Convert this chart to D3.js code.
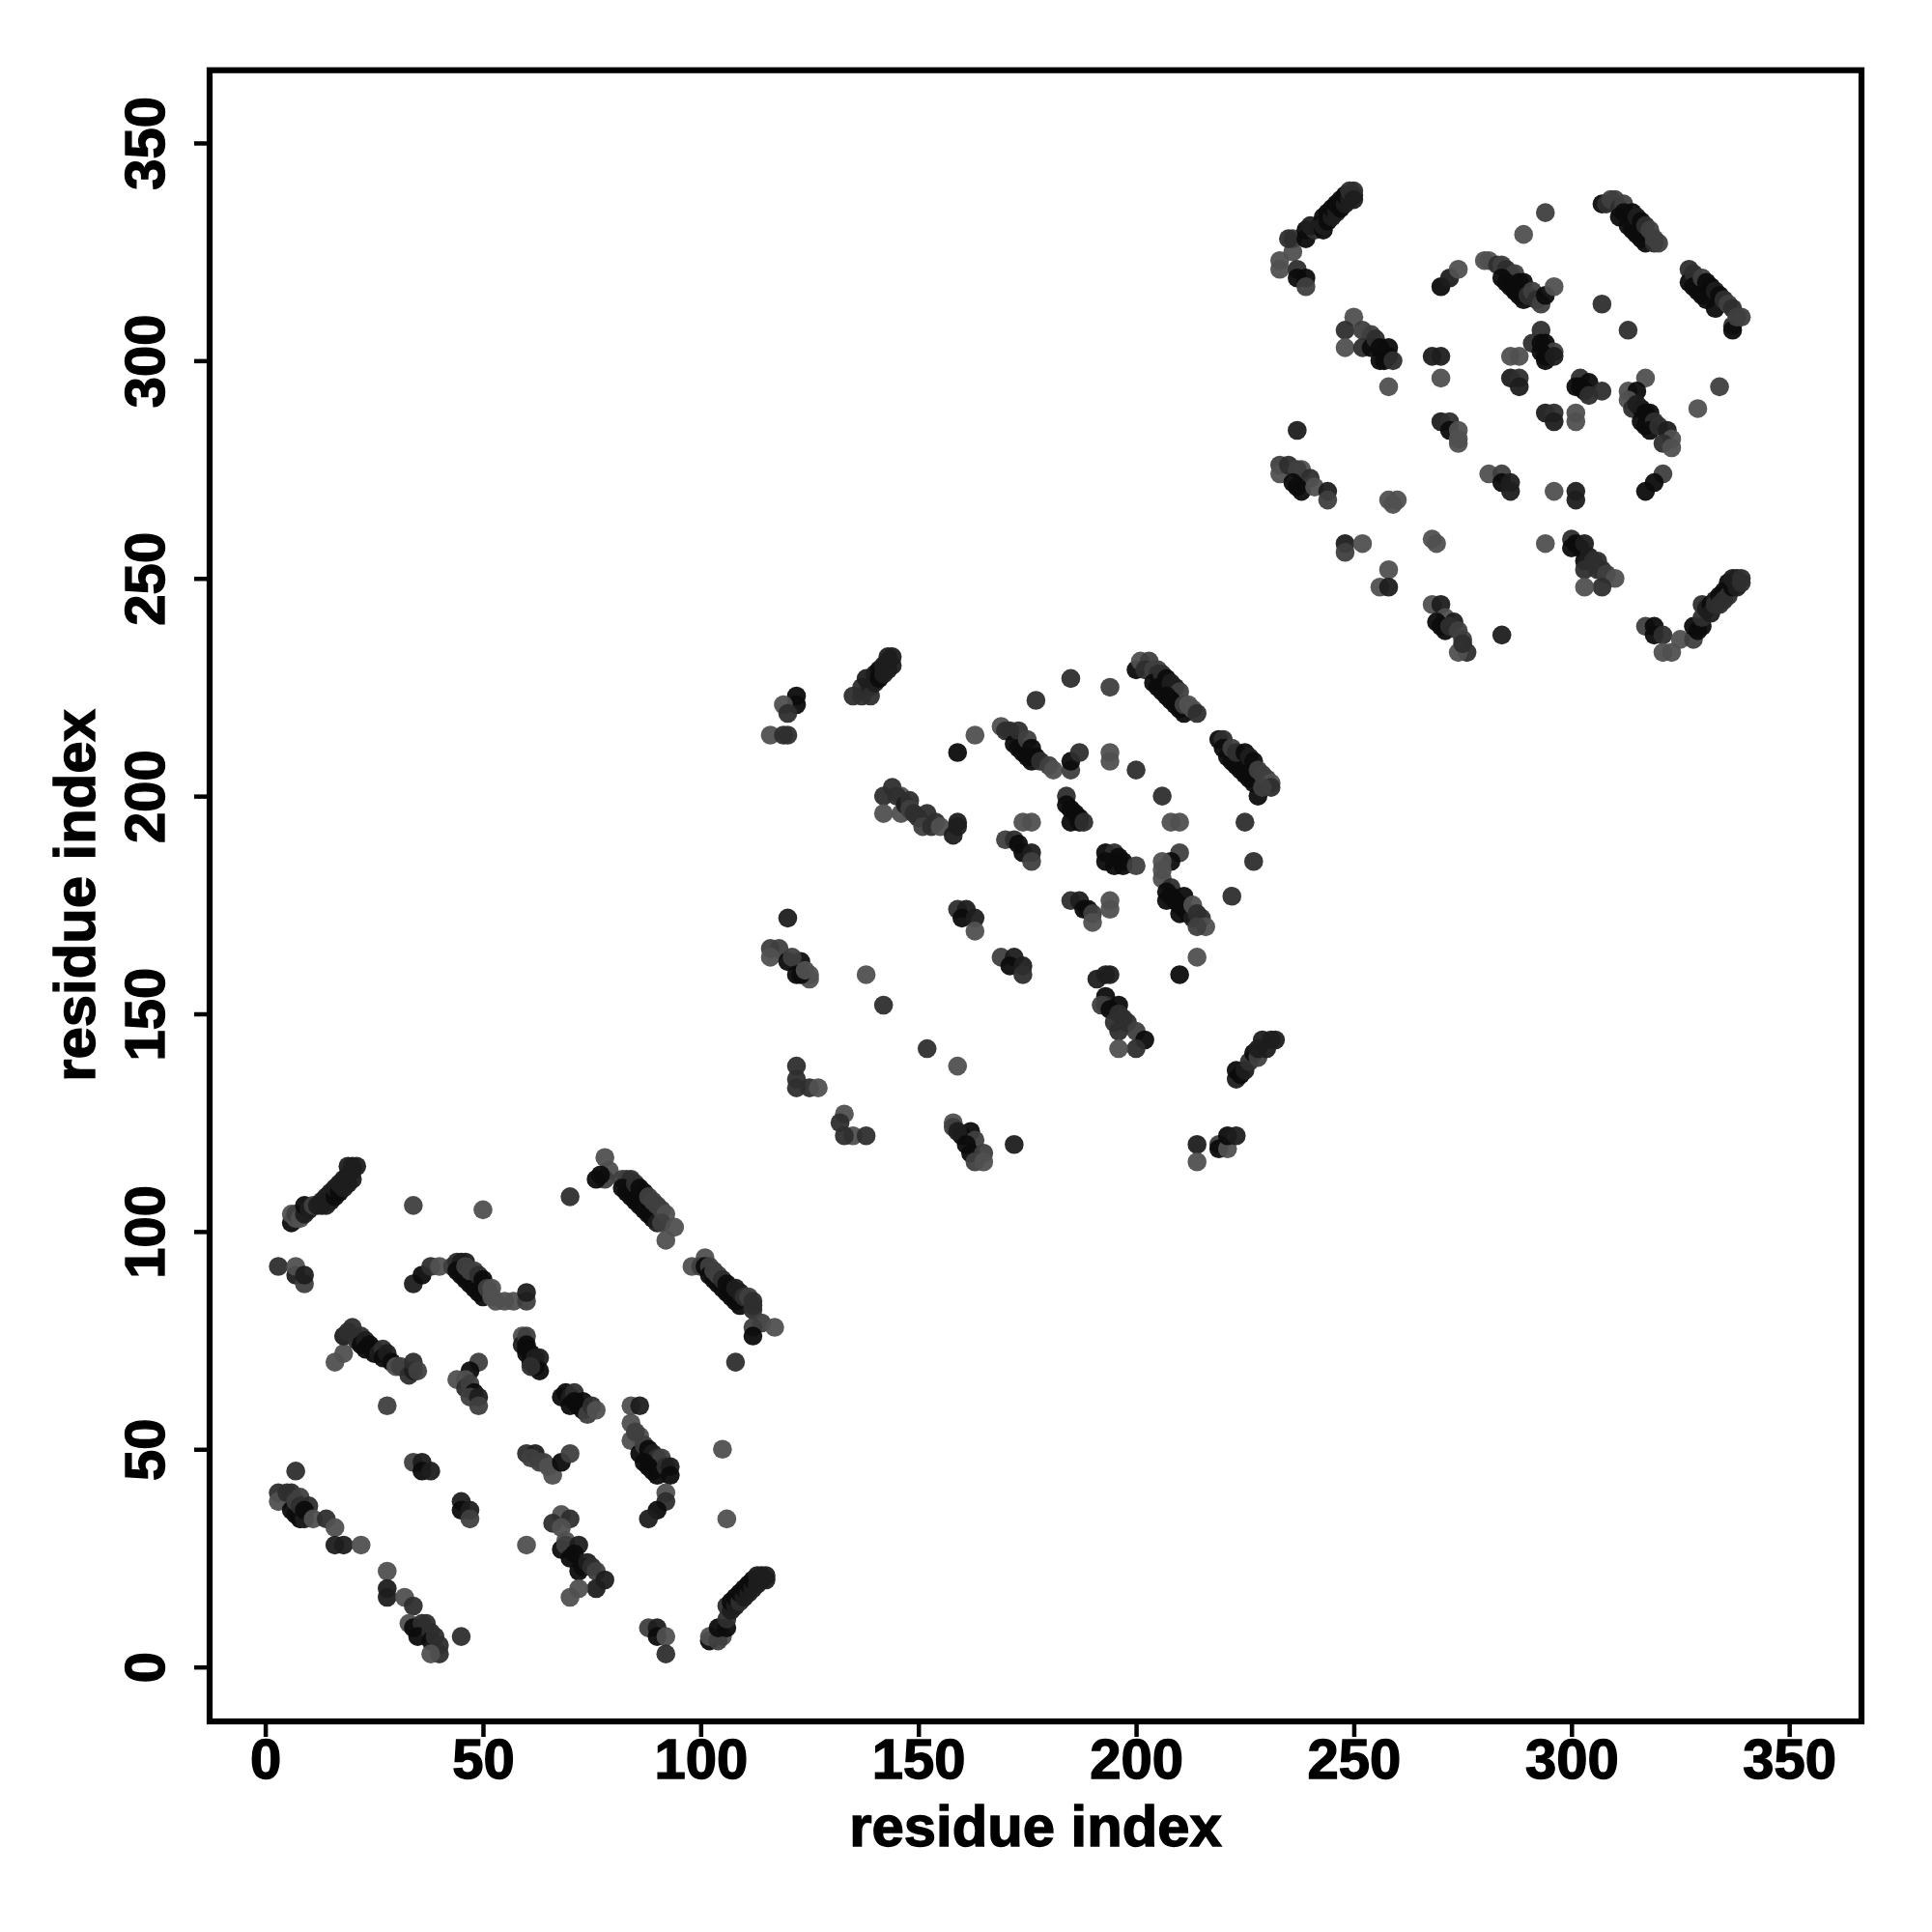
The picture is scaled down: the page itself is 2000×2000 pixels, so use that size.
<!DOCTYPE html>
<html>
<head>
<meta charset="utf-8">
<script src="https://cdn.jsdelivr.net/npm/d3@7"></script>
<style>html,body{margin:0;padding:0;background:#fff}svg{display:block}</style>
</head>
<body>
<svg id="chart" width="2000" height="2000"></svg>
<script>
// [residue i, residue j, strength level 1 (weak) .. 5 (strong)]
const clusterA = [
[6,102,5],[6,104,1],[7,103,1],[7,104,2],[8,103,1],[9,104,4],[9,106,5],[10,105,4],[11,106,2],[12,106,4],[13,106,4],[13,107,4],[14,106,4],[14,108,4],[15,107,4],[15,109,4],[16,108,5],[16,110,4],[17,109,5],[17,111,4],[18,110,4],[18,112,4],[19,111,4],[19,113,4],[20,112,4],[20,114,4],[19,115,4],[20,115,4],[21,115,4],
[34,106,2],[50,105,1],[3,92,3],[7,90,4],[7,92,1],[9,88,2],[9,90,4],
[34,88,4],[36,90,5],[38,92,3],[40,92,1],[43,92,2],[44,93,3],[45,93,4],[46,93,4],[44,91,5],[45,90,5],[46,89,5],[47,88,5],[48,87,5],[49,86,5],[50,85,5],[46,92,2],[47,91,2],[48,91,2],[49,90,3],[50,89,5],[50,88,5],[51,87,2],[52,87,1],[52,85,1],[53,84,1],[55,84,1],[57,84,1],[60,84,2],[60,86,4],
[16,70,1],[18,72,1],[18,76,4],[20,78,3],[19,77,3],[21,75,3],[22,76,3],[22,74,5],[23,75,4],[23,73,5],[24,74,5],[25,73,5],[25,72,5],[26,72,4],[27,73,3],[27,71,5],[28,72,4],[29,70,5],[30,69,1],[31,69,2],[33,67,3],[34,68,4],[34,70,3],[35,68,2],[28,60,2],
[49,70,2],[47,68,5],[44,66,1],[46,66,1],[46,64,3],[47,65,2],[48,63,5],[47,62,2],[49,62,4],[49,60,2],
[78,117,1],[79,114,1],[78,112,2],[76,112,5],[77,113,5],[70,108,3],
[82,112,2],[83,112,2],[84,112,3],[82,110,5],[83,109,5],[84,108,5],[85,107,5],[86,106,5],[87,105,5],[88,104,5],[89,103,5],[90,102,4],[85,111,3],[86,110,5],[87,109,5],[88,108,2],[89,107,2],[90,106,2],[91,105,2],[92,104,1],[91,102,2],[94,101,1],[92,98,1],
[98,92,1],[101,94,1],[100,92,2],[101,92,5],[102,92,2],[102,90,5],[103,89,5],[104,88,5],[105,87,5],[106,86,5],[107,85,5],[108,84,5],[109,83,5],[103,91,2],[104,90,2],[105,89,3],[106,88,5],[107,87,5],[108,87,4],[109,86,4],[110,85,3],[111,85,2],[112,84,3],[112,83,3],[112,82,3],[114,79,2],[117,78,1],[112,78,2],[112,76,5],[108,70,3],
[59,76,1],[59,74,4],[60,76,2],[60,74,5],[60,73,5],[60,72,5],[61,72,5],[61,70,5],[62,71,4],[62,69,5],[63,71,4],[63,68,5],[61,69,3],
[68,62,5],[69,63,5],[70,62,4],[71,63,3],[70,60,5],[71,61,5],[72,60,5],[73,61,5],[73,59,5],[74,58,2],[75,60,3],[76,59,1],
[84,60,1],[86,60,4],[84,56,1],[84,52,1],[86,53,1],[85,54,2],[86,49,5],[87,51,2],[88,50,5],[89,49,4],[90,48,3],[91,48,2],[87,47,5],[88,46,5],[89,45,5],[90,44,5],[92,46,3],[93,46,4],[93,44,5],[92,40,1],[92,38,3],[90,36,5],[88,34,4],[105,50,1],[106,34,1],
[60,49,3],[62,49,4],[61,48,2],[63,47,2],[64,47,2],[65,46,1],[66,44,1],[68,47,5],[70,49,2],
[68,35,1],[66,33,3],[70,34,3],[68,32,1],[69,29,1],[68,27,5],[69,28,2],[72,28,4],[70,25,5],[71,26,5],[72,22,5],[73,23,5],[74,24,4],[75,23,3],[76,22,2],[78,20,4],[76,18,4],[72,18,1],[70,16,1],[60,28,1],
[7,45,3],[3,40,3],[3,38,1],[5,40,3],[6,40,3],[8,39,2],[10,37,3],[6,36,5],[7,35,5],[8,34,5],[9,34,4],[7,38,2],[8,37,3],[9,36,5],[11,34,1],[14,34,3],[16,32,1],[16,28,4],[18,28,4],[22,28,1],
[28,22,1],[28,18,4],[28,16,4],[32,16,1],[34,14,3],[33,10,1],[34,9,5],[36,10,3],[37,10,3],[35,7,5],[38,8,3],[38,6,5],[39,7,3],[40,5,3],[40,3,3],[38,3,1],[45,7,3],
[34,47,2],[36,47,4],[36,45,5],[38,45,4],[45,38,4],[45,36,5],[47,36,4],[47,34,2],
[88,9,2],[90,9,4],[90,7,5],[92,7,1],[92,3,3],
[102,6,5],[102,7,1],[105,7,1],[104,6,2],[104,9,5],[106,9,5],[106,11,3],[106,14,3],[107,13,4],[107,15,5],[108,14,4],[108,16,5],[109,15,3],[109,17,5],[110,16,4],[110,18,5],[111,17,4],[111,19,5],[112,18,4],[112,20,5],[113,19,4],[113,21,4],[114,20,4],[114,21,4],[115,21,4],[115,20,4]
];
const clusterB = [
[116,214,1],[119,214,3],[120,214,3],[122,223,5],[122,221,5],[119,221,1],[120,219,3],
[135,223,3],[137,223,3],[137,225,3],[138,227,4],[139,225,4],[139,223,3],[140,226,4],[140,228,4],[141,229,5],[141,227,5],[142,228,4],[142,230,4],[143,229,4],[143,231,4],[144,230,4],[144,232,4],[143,232,4],
[144,202,3],[142,200,3],[142,196,1],[146,196,1],[146,200,1],[145,200,3],[147,198,4],[148,199,3],[148,197,2],[149,196,3],[150,195,3],[152,196,3],[151,193,2],[153,193,3],[154,194,3],[155,193,1],[158,191,4],[159,194,4],[159,193,4],
[163,214,1],[159,210,5],
[169,216,1],[170,215,3],[171,215,3],[172,212,5],[173,215,3],[173,211,5],[174,210,5],[175,213,2],[175,209,5],[176,208,5],[176,211,5],[177,209,5],[178,208,3],[180,207,2],[181,206,1],[185,206,2],[185,208,5],[187,210,3],
[185,227,3],[194,225,2],[177,222,3],[194,210,1],[194,208,1],[200,206,3],[206,200,3],
[200,229,5],[201,231,1],[203,231,2],[202,229,3],[204,229,2],[205,229,2],[205,228,3],[204,226,5],[206,228,3],[207,227,5],[205,225,5],[206,224,5],[208,226,4],[209,225,4],[210,224,2],[207,223,5],[208,222,5],[209,221,5],[210,220,5],[211,219,5],[211,221,2],[212,221,1],[213,220,1],[214,219,3],
[219,213,5],[220,213,3],[220,211,5],[221,209,5],[222,208,5],[223,207,5],[224,206,5],[225,205,5],[226,204,5],[227,203,5],[228,200,5],[222,211,2],[223,210,3],[225,210,5],[226,209,4],[227,208,5],[228,206,2],[229,205,2],[230,204,2],[231,203,1],[231,202,3],[229,202,2],
[184,200,3],[184,198,5],[185,197,5],[186,196,5],[187,195,5],[187,194,5],[185,194,5],[188,194,3],[174,194,1],[176,194,1],[208,194,1],[210,194,1],[225,194,3],[227,185,3],
[193,187,5],[195,187,3],[196,186,5],[197,185,5],[193,185,5],[195,184,5],[197,184,5],[200,184,2],
[210,187,2],[208,185,5],[206,185,1],[206,183,1],[206,181,1],[208,179,3],[222,177,3],
[170,190,2],[172,190,3],[173,189,5],[174,187,5],[176,187,4],[176,185,2],
[185,176,3],[187,176,4],[188,174,5],[189,174,5],[190,173,2],[190,171,1],[194,176,1],[194,174,1],
[207,178,5],[207,176,5],[208,177,5],[209,176,5],[210,175,5],[210,173,5],[211,177,5],[211,174,5],[212,173,5],[213,172,4],[213,175,1],[214,173,3],[215,172,3],[216,170,1],[214,170,2],[214,163,1],[210,159,5],
[191,158,4],[193,159,4],[194,159,4],[193,154,5],[193,152,3],[192,152,2],[194,151,5],[196,152,5],[196,150,3],[195,148,3],[197,149,3],[198,148,3],[200,146,2],[196,146,3],[202,144,5],[200,142,3],[196,142,1],
[214,120,4],[214,116,1],[219,120,2],[219,119,5],[221,119,1],[221,122,5],[223,122,4],
[223,135,4],[223,137,5],[224,136,5],[225,137,4],[226,139,3],[227,141,5],[228,140,2],[228,142,4],[229,144,4],[230,142,4],[231,144,4],[232,144,4],
[120,172,4],[116,165,2],[118,165,2],[116,163,1],[120,162,5],[123,162,5],[121,163,2],[122,159,5],[125,159,1],[125,158,1],[123,159,5],[124,160,1],
[138,159,1],[142,152,3],[152,142,3],[159,138,1],
[159,174,3],[161,174,4],[160,172,5],[163,172,4],[163,169,1],
[169,163,2],[172,163,4],[171,161,5],[174,161,4],[174,159,3],
[122,138,3],[122,135,3],[122,133,3],[125,133,3],[127,133,1],
[133,127,1],[132,125,3],[135,122,1],[133,122,3],[138,122,3],
[158,125,1],[158,124,2],[162,123,5],[160,122,5],[159,123,4],[163,121,2],[161,120,5],[162,118,5],[165,118,2],[163,116,2],[165,116,1],[172,120,4]
];
const clusterC = [
[233,323,1],[233,321,1],[236,325,1],[236,328,2],[235,328,3],[239,328,5],[239,330,5],[241,330,3],[240,331,4],[242,331,4],[243,330,5],[243,333,5],[243,331,4],[244,332,5],[244,334,5],[245,333,4],[245,335,5],[246,334,4],[246,336,5],[247,335,5],[247,337,5],[248,336,4],[248,338,5],[249,337,4],[249,339,3],[250,338,4],[250,339,3],[250,337,4],
[237,321,3],[237,319,5],[239,319,5],[239,317,2],
[250,310,1],[248,307,3],[248,303,1],[252,307,2],[254,306,2],[252,303,3],[254,303,5],[255,305,3],[256,303,5],[258,303,5],[256,300,5],[257,300,5],[258,301,5],[259,300,3],[258,294,1],
[268,301,4],[270,301,4],[270,296,1],[270,317,5],[272,319,4],[274,321,1],[237,284,4],
[270,286,4],[272,286,3],[272,284,5],[274,284,1],[274,282,1],[274,281,1],
[233,276,2],[233,274,1],[235,276,3],[238,275,1],[237,275,2],[240,273,3],[236,272,5],[237,271,5],[238,270,5],[241,271,1],[244,270,4],[244,268,2],
[258,268,1],[259,267,1],[260,268,1],[248,258,4],[248,256,2],[252,258,1],[258,252,1],[256,248,1],[258,248,4],[268,259,1],[269,258,1],
[268,244,1],[270,244,4],[271,241,1],[273,240,4],[269,240,5],[270,239,5],[271,238,5],[272,239,3],[274,238,2],[275,236,2],[276,233,3],[274,233,1],[275,235,3],
[281,274,1],[284,274,2],[284,272,5],[286,272,4],[286,270,4],[284,237,4],
[280,323,1],[281,323,1],[283,322,3],[284,322,2],[285,321,3],[286,320,3],[287,320,2],[288,318,5],[289,318,5],[284,319,5],[285,318,5],[286,317,5],[287,316,5],[288,315,5],[289,314,5],[290,315,3],[291,316,2],[292,314,3],[293,313,2],[294,315,5],[296,317,1],
[289,329,1],[294,334,2],[307,313,3],[313,307,3],
[307,336,5],[308,336,3],[309,337,2],[310,337,2],[311,335,3],[312,336,2],[311,333,5],[312,334,5],[313,331,5],[314,334,5],[314,330,5],[315,329,5],[315,333,4],[316,332,5],[316,328,5],[317,327,5],[317,331,3],[318,330,2],[319,327,3],[320,327,2],[319,328,2],
[327,321,3],[327,318,5],[328,320,3],[328,317,5],[329,316,5],[330,319,2],[330,315,5],[331,318,5],[331,314,5],[332,317,5],[333,312,5],[333,316,4],[334,315,5],[335,314,3],[336,313,2],[337,312,3],[337,308,3],[337,307,5],[338,310,2],[339,310,2],
[293,307,3],[291,304,3],[293,304,5],[294,304,5],[296,302,2],[293,302,5],[294,301,5],[294,300,5],[296,301,4],[286,301,1],[288,301,1],[286,296,4],[288,296,3],[288,294,4],
[294,288,4],[296,288,3],[296,286,4],[301,288,1],[301,286,1],
[302,296,3],[301,294,5],[302,294,5],[304,295,5],[303,293,5],[304,292,3],[307,293,3],
[317,296,1],[313,293,1],[315,293,5],[313,291,1],[314,289,3],[316,289,5],[315,290,4],[317,288,5],[318,288,5],[316,286,5],[317,285,5],[319,286,3],[318,284,5],[320,285,3],[322,284,4],[323,282,1],[321,281,3],[323,280,1],
[334,294,2],[329,289,1],[321,274,2],[319,272,5],[317,270,5],
[296,270,1],[301,270,4],[301,268,4],[294,258,1],[300,259,3],[300,257,5],[301,258,5],[302,257,5],[303,258,4],[303,254,5],[304,255,4],[303,252,3],[305,254,3],[306,254,3],[306,252,3],[307,252,3],[308,251,2],[310,250,1],[307,248,3],[303,248,1],
[317,239,2],[319,239,5],[319,237,5],[321,237,3],[321,233,1],[323,233,1],[325,236,1],[328,236,2],[328,239,5],[329,238,5],[330,239,5],[330,241,3],[330,244,3],[331,243,4],[332,244,5],[332,242,4],[333,245,4],[333,244,3],[334,246,5],[334,244,3],[335,247,5],[335,245,3],[336,249,5],[336,246,3],[337,248,5],[337,250,4],[338,248,4],[338,250,4],[339,250,3],[339,249,3]
];
const tickValues = [0, 50, 100, 150, 200, 250, 300, 350];
const xLabel = "residue index";
const yLabel = "residue index";

const svg = d3.select("#chart");
const font = "'Liberation Sans', Arial, sans-serif";
const x = d3.scaleLinear().domain([-12.78, 366.6]).range([217, 1927]);
const y = d3.scaleLinear().domain([-12.5, 366.7]).range([1782, 72.7]);
const shade = d3.scaleLinear().domain([1, 5]).range(["#505050", "#0c0c0c"]);

const points = clusterA.concat(clusterB, clusterC);
svg.append("g").selectAll("circle").data(points).join("circle")
  .attr("cx", d => x(d[0])).attr("cy", d => y(d[1])).attr("r", 9.8)
  .attr("fill", d => shade(d[2])).attr("fill-opacity", 0.95);

const xAxis = svg.append("g").attr("transform", "translate(0,1782)")
  .call(d3.axisBottom(x).tickValues(tickValues).tickSize(16).tickSizeOuter(0).tickPadding(2).tickFormat(d3.format("d")));
const yAxis = svg.append("g").attr("transform", "translate(217,0)")
  .call(d3.axisLeft(y).tickValues(tickValues).tickSize(16).tickSizeOuter(0).tickPadding(0).tickFormat(d3.format("d")));
[xAxis, yAxis].forEach(a => {
  a.select(".domain").remove();
  a.selectAll("line").attr("stroke", "#000").attr("stroke-width", 4.5);
  a.selectAll("text").attr("font-family", font).attr("font-weight", "bold").attr("font-size", 58)
    .attr("fill", "#000").attr("stroke", "#000").attr("stroke-width", 1.4);
});
yAxis.selectAll("text")
  .attr("text-anchor", "middle").attr("dy", 0).attr("x", 0).attr("y", 0)
  .attr("transform", "translate(-47,0) rotate(-90)");

svg.append("rect").attr("x", 217).attr("y", 72.7).attr("width", 1710).attr("height", 1709.3)
  .attr("fill", "none").attr("stroke", "#000").attr("stroke-width", 6.2);

svg.append("text").attr("x", 1072).attr("y", 1911).attr("text-anchor", "middle")
  .attr("font-family", font).attr("font-weight", "bold").attr("font-size", 59.8)
  .attr("stroke", "#000").attr("stroke-width", 1.4).text(xLabel);
svg.append("text").attr("transform", "translate(98,927) rotate(-90)").attr("text-anchor", "middle")
  .attr("font-family", font).attr("font-weight", "bold").attr("font-size", 59.8)
  .attr("stroke", "#000").attr("stroke-width", 1.4).text(yLabel);
</script>
</body>
</html>
